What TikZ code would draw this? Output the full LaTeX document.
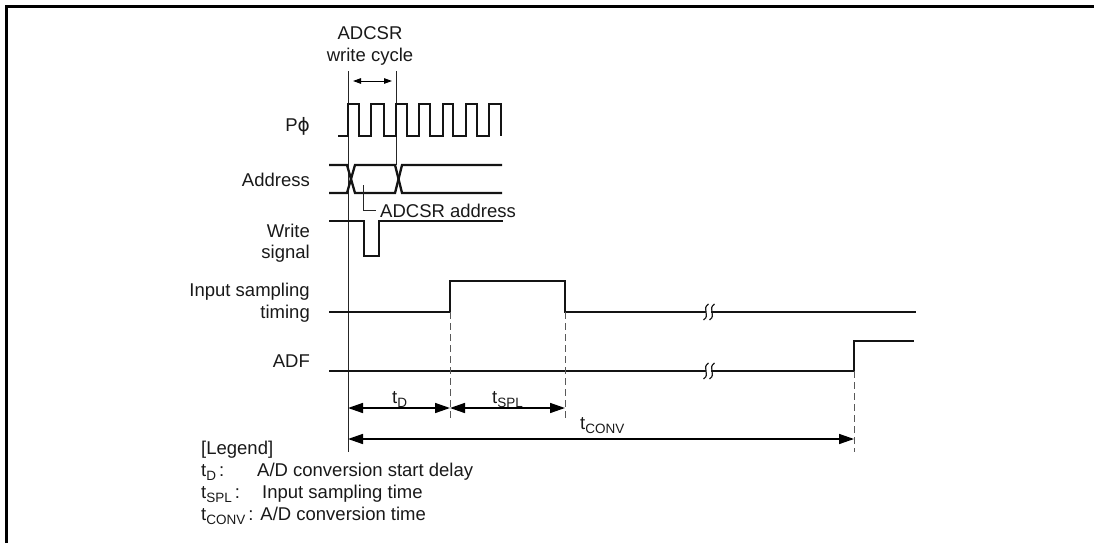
\documentclass[tikz,border=0pt]{standalone}
\usepackage{fontspec}
\setmainfont{Liberation Sans}
\newfontfamily\dejavu{DejaVu Sans}
\usetikzlibrary{arrows.meta}
\newcommand{\subtx}[1]{\raisebox{-0.22em}{\fontsize{13.5}{14}\selectfont #1}}
\begin{document}
\begin{tikzpicture}[x=1pt,y=-1pt,
  sig/.style={line width=2.3pt, line join=miter, draw=black!92},
  thinln/.style={line width=1pt, draw=black!85},
  lbl/.style={inner sep=0pt, font=\fontsize{18.5}{22}\selectfont, text=black!90},
  dimarrow/.style={line width=1.5pt, {Triangle[length=15pt,width=10pt]}-{Triangle[length=15pt,width=10pt]}},
  smallarrow/.style={line width=1pt, {Triangle[length=8pt,width=5.5pt]}-{Triangle[length=8pt,width=5.5pt]}},
  dsh/.style={line width=1pt, dash pattern=on 7pt off 4pt, draw=black!65},
  brk/.style={line width=1.2pt, draw=black!90}]
\useasboundingbox (0,0) rectangle (1094,543);

% frame
\draw[line width=2.2pt] (6.5,543) -- (6.5,6.5) -- (1094,6.5);

% key coordinates
\coordinate (refT) at (348,71);
\coordinate (refB) at (348,452);
\coordinate (cycT) at (396,71);
\coordinate (cycB) at (396,165);
\coordinate (sRise) at (450,312);
\coordinate (sFall) at (565,312);
\coordinate (aRise) at (854,371);
\coordinate (sRiseB) at (450,420);
\coordinate (sFallB) at (565,420);
\coordinate (aRiseB) at (854,452);
\coordinate (dA) at (348,408);
\coordinate (dB) at (450,408);
\coordinate (dC) at (565,408);
\coordinate (cA) at (348,439);
\coordinate (cB) at (854,439);
\coordinate (wA) at (353,81);
\coordinate (wB) at (392,81);

% reference lines
\draw[thinln] (refT) -- (refB);
\draw[thinln] (cycT) -- (cycB);
\draw[smallarrow] (wA) -- (wB);

% clock
\draw[sig] (338,136) -- (348,136) -- (348,104) -- (359,104) -- (359,136)
  -- (371,136) -- (371,104) -- (384,104) -- (384,136)
  -- (396,136) -- (396,104) -- (407,104) -- (407,136)
  -- (419,136) -- (419,104) -- (430,104) -- (430,136)
  -- (443,136) -- (443,104) -- (453,104) -- (453,136)
  -- (466,136) -- (466,104) -- (477,104) -- (477,136)
  -- (489,136) -- (489,104) -- (501,104) -- (501,136);

% address
\draw[sig] (329,165) -- (347,165) -- (355,193) -- (395,193) -- (402,165) -- (502,165);
\draw[sig] (329,193) -- (347,193) -- (355,165) -- (395,165) -- (402,193) -- (502,193);
\draw[thinln] (363,185) -- (363,210) -- (376,210);

% write signal
\draw[sig] (329,221) -- (364,221) -- (364,256) -- (379,256) -- (379,221) -- (503,221);

% input sampling timing
\draw[sig] (329,312) -- (sRise) -- (450,281) -- (565,281) -- (sFall) -- (706,312);
\draw[sig] (711,312) -- (916,312);
% ADF
\draw[sig] (329,371) -- (706,371);
\draw[sig] (711,371) -- (aRise) -- (854,341) -- (914,341);

% break marks
\foreach \yy in {312,371}{
  \foreach \xx in {706,712}{
    \draw[brk] (\xx+2.5,\yy-8) .. controls (\xx-5,\yy-3) and (\xx+5,\yy+3) .. (\xx-2.5,\yy+8);
  }
}

% dashed projections
\draw[dsh] (sRise) -- (sRiseB);
\draw[dsh] (sFall) -- (sFallB);
\draw[dsh] (aRise) -- (aRiseB);

% dimension arrows
\draw[dimarrow] (dA) -- (dB);
\draw[dimarrow] (dB) -- (dC);
\draw[dimarrow] (cA) -- (cB);

% labels
\node[lbl, anchor=base] (top1) at (370,40) {ADCSR};
\node[lbl, anchor=base] (top2) at (370,61) {write cycle};
\node[lbl, anchor=base east] (pphi) at (310,131) {P{\dejavu ϕ}};
\node[lbl, anchor=base east] (addr) at (310,186) {Address};
\node[lbl, anchor=base west] (addrn) at (380,217) {ADCSR address};
\node[lbl, anchor=base east] (wr1) at (310,237) {Write};
\node[lbl, anchor=base east] (wr2) at (310,258) {signal};
\node[lbl, anchor=base east] (is1) at (310,296) {Input sampling};
\node[lbl, anchor=base east] (is2) at (310,318) {timing};
\node[lbl, anchor=base east] (adf) at (310,367) {ADF};

\node[lbl, anchor=base west] (td) at (392,403) {t\subtx{D}};
\node[lbl, anchor=base west] (tspl) at (492,403) {t\subtx{SPL}};
\node[lbl, anchor=base west] (tconv) at (580,429) {t\subtx{CONV}};

% legend
\node[lbl, anchor=base west] (leg) at (201,454) {[Legend]};
\node[lbl, anchor=base west] (l1a) at (201,476) {t\subtx{D}\,:};
\node[lbl, anchor=base west] (l1b) at (257,476) {A/D conversion start delay};
\node[lbl, anchor=base west] (l2a) at (201,498) {t\subtx{SPL}\,:};
\node[lbl, anchor=base west] (l2b) at (262,498) {Input sampling time};
\node[lbl, anchor=base west] (l3) at (201,520) {t\subtx{CONV}\,: A/D conversion time};
\end{tikzpicture}
\end{document}
